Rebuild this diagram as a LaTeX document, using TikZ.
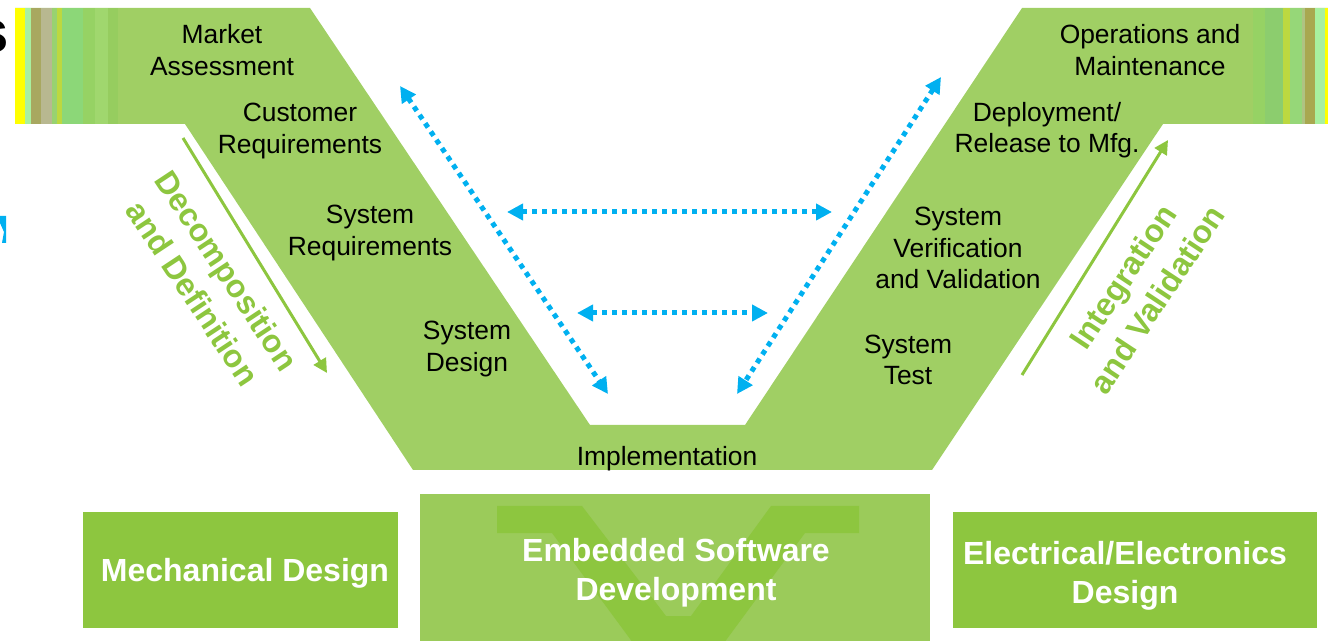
\documentclass[tikz,border=0pt]{standalone}
\usepackage{fontspec}
\setmainfont{Liberation Sans}
\usetikzlibrary{arrows.meta}
\definecolor{vgreen}{RGB}{160,207,100}
\definecolor{boxgreen}{RGB}{141,198,63}
\definecolor{midgreen}{RGB}{155,203,90}
\definecolor{linkblue}{RGB}{0,176,240}

\begin{document}
\begin{tikzpicture}[x=0.5pt, y=-0.5pt]
	\tikzstyle{phasetext}=[align=center, font=\fontsize{13.2}{15.8}\selectfont, inner sep=0pt];
	\tikzstyle{domainbox}=[align=center, text=white, font=\fontsize{16}{19.5}\selectfont\bfseries, inner sep=0pt];
	\tikzstyle{flowlabel}=[align=center, text=boxgreen, font=\fontsize{16}{20.5}\selectfont\bfseries, inner sep=0pt];
	\tikzstyle{tracelink}=[linkblue, line width=2.5pt, dash pattern=on 2.5pt off 2.5pt,
	                        {Triangle[length=8pt,width=8pt]}-{Triangle[length=8pt,width=8pt]}];
	\tikzstyle{stagearrow}=[boxgreen, line width=1.5pt, -{Triangle[length=7pt,width=7pt]}];
	\useasboundingbox (0,0) rectangle (1328,641);
	% the V
	\fill[vgreen] (15,8) -- (310,8) -- (590,425) -- (745,425) -- (1022,8) -- (1328,8)
	  -- (1328,124) -- (1163,124) -- (932,470) -- (413,470) -- (185,124) -- (15,124) -- cycle;
	\foreach \xa/\xb/\hx in {15/25/FFFF00, 25/31/A8F0A0, 31/41/A8A860, 41/52/B8B890,
	  52/57/98D270, 57/62/BCD840, 62/83/8CD778, 83/95/96D264, 95/108/A0D76E, 108/118/96CD5F,
	  1253/1265/96D264, 1265/1283/8CCD6E, 1283/1290/BCD840, 1290/1302/96D778,
	  1302/1305/AFC382, 1305/1315/A8A850, 1315/1325/A8F0A0, 1325/1328/FFFF00}
	{\definecolor{stripe}{HTML}{\hx}
	 \fill[stripe] (\xa,8) rectangle (\xb,124);}
	% cut-off pieces at the left edge
	\node[font=\fontsize{30}{36}\selectfont\bfseries, anchor=base east, inner sep=0pt] (cut) at (9,53) {s};
	\fill[linkblue] (0,216) -- (6,216) -- (6,243) -- (2,243) -- (4,232) -- (0,223) -- cycle;
	% phases
	\node[phasetext] (market) at (222,50) {Market\\Assessment};
	\node[phasetext] (custreq) at (300,131) {Customer\\Requirements};
	\node[phasetext] (sysreq) at (370,233) {System\\Requirements};
	\node[phasetext] (sysdes) at (467,349) {System\\Design};
	\node[phasetext] (impl) at (667,459) {Implementation};
	\node[phasetext] (systest) at (908,360) {System\\Test};
	\node[phasetext] (sysver) at (958,248) {System\\Verification\\and Validation};
	\node[phasetext] (deploy) at (1047,130) {Deployment/\\Release to Mfg.};
	\node[phasetext] (ops) at (1150,50) {Operations and\\Maintenance};
	% blue links
	\coordinate (lt) at (400,86);
	\coordinate (lb) at (608,394);
	\coordinate (rt) at (941,77);
	\coordinate (rb) at (737,394);
	\coordinate (ul) at (507,212);
	\coordinate (ur) at (832,212);
	\coordinate (ml) at (577,313);
	\coordinate (mr) at (768,313);
	\draw[tracelink] (lt) -- (lb);
	\draw[tracelink] (rt) -- (rb);
	\draw[tracelink] (ul) -- (ur);
	\draw[tracelink] (ml) -- (mr);
	% green side arrows
	\coordinate (ds) at (183,138);
	\coordinate (de) at (327,373);
	\coordinate (is) at (1022,375);
	\coordinate (ie) at (1168,140);
	\draw[stagearrow] (ds) -- (de);
	\draw[stagearrow] (is) -- (ie);
	\node[flowlabel, rotate=-56.5] (decomp) at (210,282) {Decomposition\\and Definition};
	\node[flowlabel, rotate=56.5] (integ) at (1140,288) {Integration\\and Validation};
	% domain boxes
	\fill[boxgreen] (83,512) rectangle (398,628);
	\fill[midgreen] (420,494) rectangle (930,645);
	\fill[boxgreen] (497,506) -- (582,506) -- (666,616) -- (691,616) -- (771,506) -- (859,506)
	  -- (859,533) -- (805,533) -- (721,647) -- (636,647) -- (552,533) -- (497,533) -- cycle;
	\fill[boxgreen] (953,512) rectangle (1317,628);
	\node[domainbox] (mech) at (245,573) {Mechanical Design};
	\node[domainbox] (embsw) at (676,573) {Embedded Software\\Development};
	\node[domainbox] (elec) at (1125,576) {Electrical/Electronics\\Design};
\end{tikzpicture}
\end{document}
